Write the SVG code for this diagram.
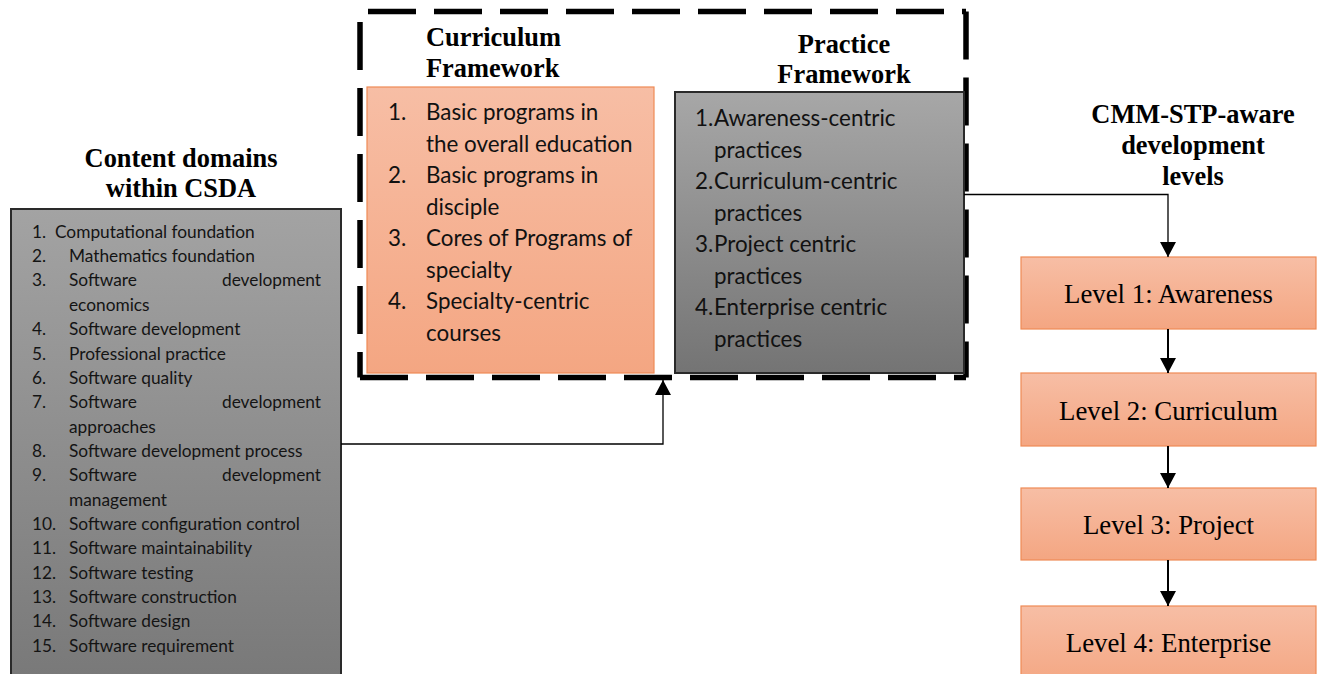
<svg xmlns="http://www.w3.org/2000/svg" width="1320" height="674" viewBox="0 0 1320 674">
  <defs>
    <linearGradient id="gOrange" x1="0" y1="0" x2="0" y2="1">
      <stop offset="0" stop-color="#f7bea5"/>
      <stop offset="1" stop-color="#f4a682"/>
    </linearGradient>
    <linearGradient id="gGrey" x1="0" y1="0" x2="0" y2="1">
      <stop offset="0" stop-color="#a7a7a7"/>
      <stop offset="1" stop-color="#747474"/>
    </linearGradient>
    <linearGradient id="gGreyTall" x1="0" y1="0" x2="0" y2="1">
      <stop offset="0" stop-color="#a3a3a3"/>
      <stop offset="1" stop-color="#777777"/>
    </linearGradient>
    <marker id="arrow" markerUnits="userSpaceOnUse" markerWidth="16" markerHeight="16" refX="15" refY="8" orient="auto">
      <path d="M0,0 L15,8 L0,16 Z" fill="#000"/>
    </marker>
  </defs>
  <style>
    .head { font-family: "Liberation Serif", "Times New Roman", serif; font-weight: bold; font-size: 26.4px; fill: #000; }
    .lvl { font-family: "Liberation Serif", "Times New Roman", serif; font-size: 26.8px; fill: #000; text-anchor: middle; }
    .item { font-family: Lato, "Open Sans", sans-serif; font-size: 17.3px; fill: #141414; }
    .big { font-family: Lato, "Open Sans", sans-serif; font-size: 22.4px; fill: #111; }
    .orange { fill: url(#gOrange); stroke: #ee8a55; stroke-width: 1.2; }
    .grey { stroke: #2a2a2a; stroke-width: 2; }
    .dash { fill: none; stroke: #000; stroke-width: 5.5; stroke-dasharray: 48 18; }
    .conn { fill: none; stroke: #000; stroke-width: 1.3; }
    .step { fill: none; stroke: #000; stroke-width: 2; }
  </style>

  <!-- Content domains -->
  <g id="content-domains">
    <text class="head" x="181" y="166.7" text-anchor="middle">Content domains</text>
    <text class="head" x="181" y="196.7" text-anchor="middle">within CSDA</text>
    <rect class="grey" x="11" y="209" width="330" height="490" fill="url(#gGreyTall)"/>
    <g class="item">
      <text x="32" y="237.7">1.</text><text x="55" y="237.7">Computational foundation</text>
      <text x="32" y="262">2.</text><text x="69" y="262">Mathematics foundation</text>
      <text x="32" y="286.4">3.</text><text x="69" y="286.4">Software</text><text x="321" y="286.4" text-anchor="end">development</text>
      <text x="69" y="310.8">economics</text>
      <text x="32" y="335.1">4.</text><text x="69" y="335.1">Software development</text>
      <text x="32" y="359.5">5.</text><text x="69" y="359.5">Professional practice</text>
      <text x="32" y="383.8">6.</text><text x="69" y="383.8">Software quality</text>
      <text x="32" y="408.2">7.</text><text x="69" y="408.2">Software</text><text x="321" y="408.2" text-anchor="end">development</text>
      <text x="69" y="432.5">approaches</text>
      <text x="32" y="456.9">8.</text><text x="69" y="456.9">Software development process</text>
      <text x="32" y="481.2">9.</text><text x="69" y="481.2">Software</text><text x="321" y="481.2" text-anchor="end">development</text>
      <text x="69" y="505.6">management</text>
      <text x="32" y="529.9">10.</text><text x="69" y="529.9">Software configuration control</text>
      <text x="32" y="554.3">11.</text><text x="69" y="554.3">Software maintainability</text>
      <text x="32" y="578.6">12.</text><text x="69" y="578.6">Software testing</text>
      <text x="32" y="603">13.</text><text x="69" y="603">Software construction</text>
      <text x="32" y="627.3">14.</text><text x="69" y="627.3">Software design</text>
      <text x="32" y="651.7">15.</text><text x="69" y="651.7">Software requirement</text>
    </g>
  </g>

  <!-- Dashed frame holding both frameworks -->
  <g id="frameworks">
    <path class="dash" d="M360,11.5 H966" stroke-dashoffset="58"/>
    <path class="dash" d="M966,11.5 V377.5" stroke-dashoffset="0"/>
    <path class="dash" d="M360,377.5 H966" stroke-dashoffset="0"/>
    <path class="dash" d="M360,11.5 V377.5" stroke-dashoffset="55.5"/>
  </g>

  <g id="curriculum-framework">
    <text class="head" x="426" y="45.5">Curriculum</text>
    <text class="head" x="426" y="76.5">Framework</text>
    <rect class="orange" x="367" y="87" width="287" height="286"/>
    <g class="big">
      <text x="388" y="120">1.</text><text x="426" y="120">Basic programs in</text>
      <text x="426" y="151.5">the overall education</text>
      <text x="388" y="183">2.</text><text x="426" y="183">Basic programs in</text>
      <text x="426" y="214.5">disciple</text>
      <text x="388" y="246">3.</text><text x="426" y="246">Cores of Programs of</text>
      <text x="426" y="277.5">specialty</text>
      <text x="388" y="309">4.</text><text x="426" y="309">Specialty-centric</text>
      <text x="426" y="340.5">courses</text>
    </g>
  </g>

  <g id="practice-framework">
    <text class="head" x="844" y="52.7" text-anchor="middle">Practice</text>
    <text class="head" x="844" y="83.3" text-anchor="middle">Framework</text>
    <rect class="grey" x="675" y="92" width="289" height="281" fill="url(#gGrey)"/>
    <g class="big">
      <text x="695" y="126">1.</text><text x="714" y="126">Awareness-centric</text>
      <text x="714" y="157.5">practices</text>
      <text x="695" y="189">2.</text><text x="714" y="189">Curriculum-centric</text>
      <text x="714" y="220.5">practices</text>
      <text x="695" y="252">3.</text><text x="714" y="252">Project centric</text>
      <text x="714" y="283.5">practices</text>
      <text x="695" y="315">4.</text><text x="714" y="315">Enterprise centric</text>
      <text x="714" y="346.5">practices</text>
    </g>
  </g>

  <!-- Development levels -->
  <g id="levels-title">
    <text class="head" x="1193" y="123" text-anchor="middle">CMM-STP-aware</text>
    <text class="head" x="1193" y="154" text-anchor="middle">development</text>
    <text class="head" x="1193" y="185" text-anchor="middle">levels</text>
  </g>
  <g id="level-1">
    <rect class="orange" x="1021" y="257" width="295" height="72"/>
    <text class="lvl" x="1168.5" y="303">Level 1: Awareness</text>
  </g>
  <g id="level-2">
    <rect class="orange" x="1021" y="373" width="295" height="73"/>
    <text class="lvl" x="1168.5" y="420">Level 2: Curriculum</text>
  </g>
  <g id="level-3">
    <rect class="orange" x="1021" y="488" width="295" height="72"/>
    <text class="lvl" x="1168.5" y="534">Level 3: Project</text>
  </g>
  <g id="level-4">
    <rect class="orange" x="1021" y="606" width="295" height="80"/>
    <text class="lvl" x="1168.5" y="652">Level 4: Enterprise</text>
  </g>

  <!-- Connectors -->
  <g id="connectors">
    <path class="conn" d="M341,444 H663 V380" marker-end="url(#arrow)"/>
    <path class="conn" d="M964,194.5 H1168 V257" marker-end="url(#arrow)"/>
    <path class="step" d="M1168,329 V373" marker-end="url(#arrow)"/>
    <path class="step" d="M1168,446 V488" marker-end="url(#arrow)"/>
    <path class="step" d="M1168,560 V606" marker-end="url(#arrow)"/>
  </g>
</svg>
